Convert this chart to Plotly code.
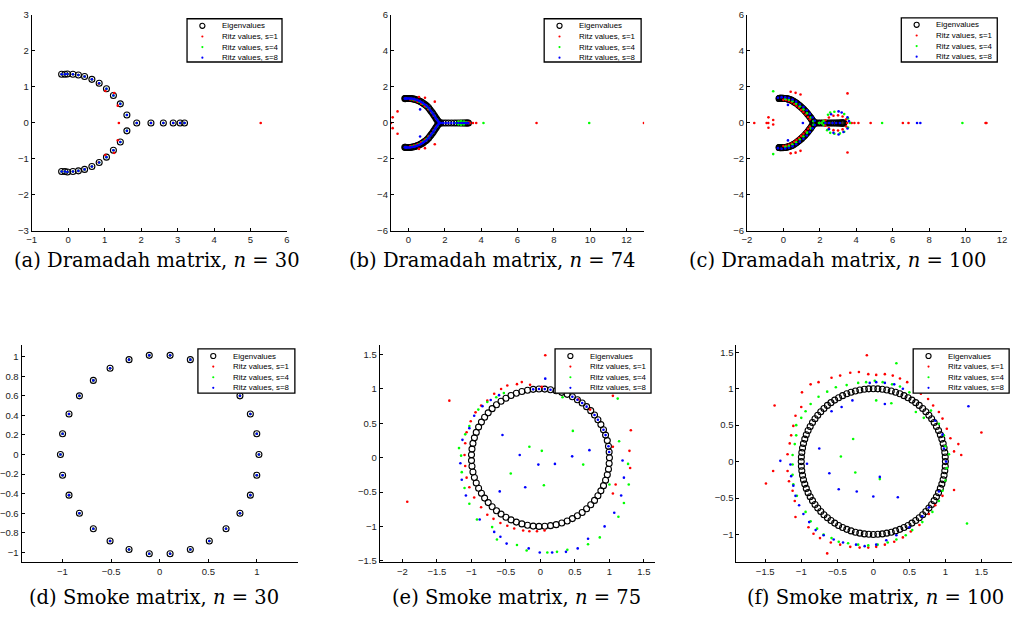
import plotly.graph_objects as go

W, H = 1027, 633

# ---------------- (a) Dramadah n=30 ----------------
a_eig = [(-0.18,1.35),(-0.09,1.35),(-0.02,1.36),(0.13,1.35),(0.28,1.33),(0.45,1.29),(0.65,1.21),(0.85,1.10),
         (1.05,0.95),(1.24,0.76),(1.43,0.53),(1.61,0.22),(1.88,0),(2.27,0),(2.61,0),(2.88,0),(3.07,0),(3.19,0),
         (1.61,-0.22),(1.43,-0.53),(1.24,-0.76),(1.05,-0.95),(0.85,-1.10),(0.65,-1.21),(0.45,-1.29),(0.28,-1.33),
         (0.13,-1.35),(-0.02,-1.36),(-0.09,-1.35),(-0.18,-1.35)]
a_s1 = [(-0.18,1.35),(-0.09,1.35),(-0.02,1.36),(0.13,1.35),(0.28,1.33),(0.45,1.29),(0.65,1.21),(0.84,1.09),
        (1.02,0.89),(1.26,0.83),(1.36,0.48),(1.39,0),(1.88,0),(2.27,0),(2.61,0),(2.88,0),(3.07,0),(3.19,0),(5.28,0),
        (1.36,-0.48),(1.26,-0.83),(1.02,-0.89),(0.84,-1.09),(0.65,-1.21),(0.45,-1.29),(0.28,-1.33),(0.13,-1.35),
        (-0.02,-1.36),(-0.09,-1.35),(-0.18,-1.35)]
a_s4 = a_eig
a_s8 = a_eig

# ---------------- (b) Dramadah n=74 ----------------
b_eig = [(-0.20,1.35),(-0.17,1.35),(-0.14,1.36),(-0.10,1.36),(-0.05,1.36),(0.01,1.36),(0.08,1.36),(0.15,1.35),
         (0.23,1.34),(0.31,1.32),(0.39,1.30),(0.47,1.27),(0.55,1.24),(0.63,1.20),(0.71,1.16),(0.79,1.11),
         (0.87,1.05),(0.95,0.99),(1.03,0.92),(1.11,0.84),(1.18,0.74),(1.25,0.65),(1.32,0.56),(1.38,0.47),
         (1.44,0.38),(1.50,0.29),(1.55,0.21),(1.60,0.13),(1.65,0.07),(1.70,0.02),
         (1.78,0),(1.90,0),(2.05,0),(2.20,0),(2.36,0),(2.52,0),(2.67,0),(2.81,0),(2.93,0),(3.03,0),(3.12,0),
         (3.19,0),(3.25,0),(3.30,0),
         (1.70,-0.02),(1.65,-0.07),(1.60,-0.13),(1.55,-0.21),(1.50,-0.29),(1.44,-0.38),(1.38,-0.47),(1.32,-0.56),
         (1.25,-0.65),(1.18,-0.74),(1.11,-0.84),(1.03,-0.92),(0.95,-0.99),(0.87,-1.05),(0.79,-1.11),(0.71,-1.16),
         (0.63,-1.20),(0.55,-1.24),(0.47,-1.27),(0.39,-1.30),(0.31,-1.32),(0.23,-1.34),(0.15,-1.35),(0.08,-1.36),
         (0.01,-1.36),(-0.05,-1.36),(-0.10,-1.36),(-0.14,-1.36),(-0.17,-1.35),(-0.20,-1.35)]
b_s1 = [(-0.96,0),(-0.87,0.31),(-0.87,-0.29),(-0.60,0.64),(-0.60,-0.60),(0.58,1.44),(0.91,1.40),(1.45,1.18),
        (1.45,-1.18),(0.91,-1.40),(0.58,-1.44),(3.55,0),(3.73,0),(7.05,0),(12.96,0),
        (0.10,1.30),(0.30,1.26),(0.50,1.18),(0.70,1.07),(0.90,0.93),(1.10,0.76),(1.25,0.60),(1.40,0.40),(1.52,0.22),
        (0.10,-1.30),(0.30,-1.26),(0.50,-1.18),(0.70,-1.07),(0.90,-0.93),(1.10,-0.76),(1.25,-0.60),(1.40,-0.40),
        (1.52,-0.22),(2.70,0),(2.80,0.06),(2.90,-0.06),(3.00,0),(3.10,0.05),(3.20,0),(3.30,0.04),(3.38,0)]
b_s4 = [(0.20,1.31),(0.40,1.26),(0.60,1.17),(0.80,1.05),(1.00,0.90),(1.15,0.76),(1.30,0.58),(1.45,0.38),(1.58,0.18),
        (0.20,-1.31),(0.40,-1.26),(0.60,-1.17),(0.80,-1.05),(1.00,-0.90),(1.15,-0.76),(1.30,-0.58),(1.45,-0.38),
        (1.58,-0.18),(2.60,0),(2.75,0.08),(2.90,0.10),(3.05,0.08),(3.20,0.03),(2.75,-0.08),(2.90,-0.10),
        (3.05,-0.08),(4.13,0),(9.95,0)]
b_s8 = b_eig + [(0.64,0.75),(0.64,-0.75)]

# ---------------- (c) Dramadah n=100 ----------------
c_eig = [(-0.24,1.36),(-0.22,1.36),(-0.20,1.37),(-0.17,1.37),(-0.14,1.37),(-0.10,1.37),(-0.06,1.37),(-0.01,1.37),
         (0.04,1.36),(0.10,1.36),(0.16,1.35),(0.22,1.34),(0.28,1.32),(0.34,1.30),(0.40,1.28),(0.46,1.25),
         (0.52,1.22),(0.58,1.18),(0.64,1.14),(0.70,1.10),(0.76,1.06),(0.82,1.01),(0.88,0.96),(0.94,0.91),
         (1.00,0.86),(1.06,0.80),(1.12,0.74),(1.18,0.68),(1.23,0.62),(1.28,0.56),(1.33,0.50),(1.38,0.44),
         (1.43,0.37),(1.48,0.31),(1.52,0.25),(1.56,0.19),(1.60,0.13),(1.64,0.08),(1.68,0.04),(1.72,0.01),
         (1.80,0),(1.92,0),(2.04,0),(2.16,0),(2.28,0),(2.40,0),(2.51,0),(2.62,0),(2.72,0),(2.82,0),(2.91,0),
         (2.99,0),(3.06,0),(3.12,0),(3.17,0),(3.21,0),(3.24,0),(3.27,0),(3.29,0),(3.31,0),
         (1.72,-0.01),(1.68,-0.04),(1.64,-0.08),(1.60,-0.13),(1.56,-0.19),(1.52,-0.25),(1.48,-0.31),(1.43,-0.37),
         (1.38,-0.44),(1.33,-0.50),(1.28,-0.56),(1.23,-0.62),(1.18,-0.68),(1.12,-0.74),(1.06,-0.80),(1.00,-0.86),
         (0.94,-0.91),(0.88,-0.96),(0.82,-1.01),(0.76,-1.06),(0.70,-1.10),(0.64,-1.14),(0.58,-1.18),(0.52,-1.22),
         (0.46,-1.25),(0.40,-1.28),(0.34,-1.30),(0.28,-1.32),(0.22,-1.34),(0.16,-1.35),(0.10,-1.36),(0.04,-1.36),
         (-0.01,-1.37),(-0.06,-1.37),(-0.10,-1.37),(-0.14,-1.37),(-0.17,-1.37),(-0.20,-1.37),(-0.22,-1.36),
         (-0.24,-1.36)]
c_s1 = [(-1.60,0),(-0.92,0),(-0.83,0),(-0.82,0.31),(-0.82,-0.27),(-0.56,0.16),(-0.56,-0.09),(0.40,1.73),
        (0.67,1.67),(0.94,1.58),(0.40,-1.69),(0.67,-1.65),(0.94,-1.55),(3.52,1.64),(3.52,-1.64),(4.12,0),
        (4.79,0),(6.56,0),(6.87,0),(11.10,0),(11.15,0),(3.75,0),(3.90,0),
        (0.00,1.28),(0.15,1.27),(0.30,1.22),(0.45,1.15),(0.60,1.05),(0.72,0.95),(0.85,0.84),(0.98,0.72),
        (1.10,0.60),(1.22,0.47),(1.35,0.33),(1.45,0.20),
        (0.00,-1.28),(0.15,-1.27),(0.30,-1.22),(0.45,-1.15),(0.60,-1.05),(0.72,-0.95),(0.85,-0.84),(0.98,-0.72),
        (1.10,-0.60),(1.22,-0.47),(1.35,-0.33),(1.45,-0.20),
        (2.50,0.30),(2.75,0.40),(3.00,0.42),(3.25,0.36),(3.45,0.20),(3.50,0),(3.45,-0.20),(3.25,-0.36),
        (3.00,-0.42),(2.75,-0.40),(2.50,-0.30),(2.30,0.15),(2.30,-0.15)]
c_s4 = [(-0.56,1.76),(-0.56,-1.73),(5.42,0),(9.83,0),
        (0.10,1.33),(0.30,1.29),(0.50,1.20),(0.70,1.07),(0.90,0.92),(1.10,0.75),(1.30,0.54),(1.50,0.30),(1.65,0.10),
        (0.10,-1.33),(0.30,-1.29),(0.50,-1.20),(0.70,-1.07),(0.90,-0.92),(1.10,-0.75),(1.30,-0.54),(1.50,-0.30),
        (1.65,-0.10),(2.45,0.45),(2.57,0.58),(2.80,0.62),(3.34,0.49),(3.55,0.25),(3.66,0),(3.55,-0.25),
        (3.34,-0.49),(3.10,-0.58),(2.80,-0.60),(2.57,-0.55),(2.40,-0.40),(2.20,0.10),(2.20,-0.10),(1.95,0),(2.10,0)]
c_s8 = [(1.07,0),(7.34,0),(7.52,0),(0.25,1.00),(0.25,-0.97),
        (-0.30,1.40),(-0.10,1.43),(0.10,1.42),(0.30,1.38),(0.50,1.30),(0.70,1.18),(0.90,1.04),(1.10,0.88),
        (1.28,0.70),(1.45,0.50),(1.60,0.30),(1.72,0.12),
        (-0.30,-1.40),(-0.10,-1.43),(0.10,-1.42),(0.30,-1.38),(0.50,-1.30),(0.70,-1.18),(0.90,-1.04),(1.10,-0.88),
        (1.28,-0.70),(1.45,-0.50),(1.60,-0.30),(1.72,-0.12),
        (2.62,0.48),(3.03,0.64),(3.20,0.58),(3.52,0.31),(3.60,0.10),(3.52,-0.31),(3.30,-0.50),(3.03,-0.64),
        (2.75,-0.55),(2.50,-0.35),(2.30,0),(2.50,0),(2.70,0),(2.90,0),(3.10,0)]

# ---------------- (d) Smoke n=30 ----------------
d_eig = [(1.02,0),(0.998,0.212),(0.932,0.415),(0.825,0.600),(0.682,0.758),(0.51,0.883),(0.315,0.970),
         (0.107,1.014),(-0.107,1.014),(-0.315,0.970),(-0.51,0.883),(-0.682,0.758),(-0.825,0.600),(-0.932,0.415),
         (-0.998,0.212),(-1.02,0),(-0.998,-0.212),(-0.932,-0.415),(-0.825,-0.600),(-0.682,-0.758),(-0.51,-0.883),
         (-0.315,-0.970),(-0.107,-1.014),(0.107,-1.014),(0.315,-0.970),(0.51,-0.883),(0.682,-0.758),
         (0.825,-0.600),(0.932,-0.415),(0.998,-0.212)]
d_s1 = d_eig
d_s4 = d_eig
d_s8 = d_eig

# ---------------- (e) Smoke n=75 ----------------
e_eig = [(1.000,0.000),(0.996,0.084),(0.986,0.167),(0.969,0.249),(0.944,0.329),(0.914,0.407),(0.876,0.482),
         (0.833,0.553),(0.784,0.621),(0.729,0.685),(0.669,0.743),(0.605,0.797),(0.536,0.844),(0.463,0.886),
         (0.388,0.922),(0.309,0.951),(0.228,0.974),(0.146,0.989),(0.063,0.998),(-0.021,1.000),(-0.105,0.995),
         (-0.187,0.982),(-0.269,0.963),(-0.349,0.937),(-0.426,0.905),(-0.500,0.866),(-0.571,0.821),(-0.637,0.771),
         (-0.700,0.714),(-0.757,0.653),(-0.809,0.588),(-0.855,0.518),(-0.896,0.445),(-0.930,0.368),(-0.957,0.289),
         (-0.978,0.208),(-0.992,0.125),(-0.999,0.042),(-0.999,-0.042),(-0.992,-0.125),(-0.978,-0.208),
         (-0.957,-0.289),(-0.930,-0.368),(-0.896,-0.445),(-0.855,-0.518),(-0.809,-0.588),(-0.757,-0.653),
         (-0.700,-0.714),(-0.637,-0.771),(-0.571,-0.821),(-0.500,-0.866),(-0.426,-0.905),(-0.349,-0.937),
         (-0.269,-0.963),(-0.187,-0.982),(-0.105,-0.995),(-0.021,-1.000),(0.063,-0.998),(0.146,-0.989),
         (0.228,-0.974),(0.309,-0.951),(0.388,-0.922),(0.463,-0.886),(0.536,-0.844),(0.605,-0.797),(0.669,-0.743),
         (0.729,-0.685),(0.784,-0.621),(0.833,-0.553),(0.876,-0.482),(0.914,-0.407),(0.944,-0.329),(0.969,-0.249),
         (0.986,-0.167),(0.996,-0.084)]
e_s1 = [(0.07,1.49),(-1.32,0.83),(-1.93,-0.64),(-0.15,1.06),(-0.27,1.10),(-0.34,1.07),(-0.48,1.05),(-0.57,1.00),
        (-0.67,0.93),(-0.77,0.83),(-0.86,0.76),(-0.94,0.66),(-1.01,0.53),(-1.07,0.37),(-1.09,0.21),(-1.10,0.04),
        (-1.09,-0.12),(-1.07,-0.29),(-1.03,-0.43),(-0.96,-0.58),(-0.86,-0.72),(-0.77,-0.83),(-0.68,-0.89),
        (-0.58,-0.95),(-0.48,-0.99),(-0.38,-1.03),(-0.25,-1.06),(-0.16,-1.07),(-0.05,-1.07),(0.06,-1.06),
        (0.02,1.03),(1.31,0.40),(1.29,0.10),(1.30,-0.15),(1.09,-0.39),(1.05,-0.52),(1.05,0.90),(1.05,0.16),
        (0.55,0.85),(0.72,0.70)]
e_s4 = [(-0.16,0.16),(0.02,0.10),(-0.43,-0.23),(0.05,-0.40),(0.47,0.39),(0.62,-0.10),(0.32,0.88),(1.12,0.86),
        (1.14,0.24),(1.27,-0.09),(1.28,-0.39),(1.00,-0.39),(1.21,-0.66),(1.13,-0.86),
        (-1.18,0.14),(-1.15,0.03),(-1.14,-0.21),(-1.09,0.34),(-1.03,0.46),(-0.90,0.70),(-0.77,0.81),(-0.64,0.88),
        (-0.53,0.94),(-1.10,-0.44),(-1.03,-0.67),(-0.92,-0.90),(-0.70,-1.01),(-0.63,-1.19),(-0.34,-1.27),
        (-0.20,-1.35),(0.10,-1.38),(0.24,-1.37),(0.39,-1.34),(0.69,-1.26),(0.86,-1.16)]
e_s8 = [(-0.55,0.33),(-0.30,0.04),(-0.03,-0.10),(0.21,-0.09),(-0.22,-0.43),(-0.59,-0.49),(0.71,0.11),(0.46,0.02),
        (0.07,1.15),(1.19,-0.04),(1.21,-0.29),(1.17,-0.55),(1.07,-0.80),(0.93,-1.00),(0.69,-1.18),(0.54,-1.32),
        (0.37,-1.37),(0.17,-1.38),(-0.01,-1.38),(-0.17,-1.32),(-0.49,-1.25),(-0.58,-1.15),(-0.67,-1.08),
        (-0.88,-0.90),(-1.08,-0.55),(-1.14,-0.32),(-1.16,-0.08),(-1.13,0.26),(-1.03,0.43),(-0.96,0.61),
        (-0.84,0.75),(-0.72,0.84),(-0.60,0.91),(-0.105,0.995),(-0.021,1.000),(0.063,0.998),(0.146,0.989),
        (0.463,0.886),(0.536,0.844),(0.605,0.797),(0.669,0.743),(0.784,0.621),(0.833,0.553),(0.914,0.407),
        (0.944,0.329),(0.986,0.167),(0.996,0.084)]

# ---------------- (f) Smoke n=100 ----------------
f_eig = [(1,0),(0.998,0.063),(0.992,0.125),(0.982,0.187),(0.969,0.249),(0.951,0.309),(0.930,0.368),(0.905,0.426),
         (0.876,0.482),(0.844,0.536),(0.809,0.588),(0.771,0.637),(0.729,0.685),(0.685,0.729),(0.637,0.771),
         (0.588,0.809),(0.536,0.844),(0.482,0.876),(0.426,0.905),(0.368,0.930),(0.309,0.951),(0.249,0.969),
         (0.187,0.982),(0.125,0.992),(0.063,0.998),(0,1),
         (-0.063,0.998),(-0.125,0.992),(-0.187,0.982),(-0.249,0.969),(-0.309,0.951),(-0.368,0.930),(-0.426,0.905),
         (-0.482,0.876),(-0.536,0.844),(-0.588,0.809),(-0.637,0.771),(-0.685,0.729),(-0.729,0.685),(-0.771,0.637),
         (-0.809,0.588),(-0.844,0.536),(-0.876,0.482),(-0.905,0.426),(-0.930,0.368),(-0.951,0.309),(-0.969,0.249),
         (-0.982,0.187),(-0.992,0.125),(-0.998,0.063),(-1,0),
         (-0.998,-0.063),(-0.992,-0.125),(-0.982,-0.187),(-0.969,-0.249),(-0.951,-0.309),(-0.930,-0.368),
         (-0.905,-0.426),(-0.876,-0.482),(-0.844,-0.536),(-0.809,-0.588),(-0.771,-0.637),(-0.729,-0.685),
         (-0.685,-0.729),(-0.637,-0.771),(-0.588,-0.809),(-0.536,-0.844),(-0.482,-0.876),(-0.426,-0.905),
         (-0.368,-0.930),(-0.309,-0.951),(-0.249,-0.969),(-0.187,-0.982),(-0.125,-0.992),(-0.063,-0.998),(0,-1),
         (0.063,-0.998),(0.125,-0.992),(0.187,-0.982),(0.249,-0.969),(0.309,-0.951),(0.368,-0.930),(0.426,-0.905),
         (0.482,-0.876),(0.536,-0.844),(0.588,-0.809),(0.637,-0.771),(0.685,-0.729),(0.729,-0.685),(0.771,-0.637),
         (0.809,-0.588),(0.844,-0.536),(0.876,-0.482),(0.905,-0.426),(0.930,-0.368),(0.951,-0.309),(0.969,-0.249),
         (0.982,-0.187),(0.992,-0.125),(0.998,-0.063)]
f_s1 = [(-0.09,1.46),(-1.37,0.77),(-1.39,-0.13),(-1.49,-0.30),(1.50,0.40),(-0.64,-1.26),(1.12,-0.39),(1.22,0.09),
        (1.18,0.24),(-0.32,1.22),(-0.20,1.23),(-0.07,1.20),(0.04,1.19),(0.16,1.20),(0.27,1.18),(0.37,1.14),
        (0.47,1.09),(0.57,1.02),(0.66,0.93),(0.76,0.86),(0.83,0.77),(0.91,0.68),(0.96,0.59),(1.02,0.45),
        (1.07,0.32),(1.12,0.14),(-0.46,1.18),(-0.58,1.15),(-0.76,1.09),(-0.87,1.06),(-0.99,0.95),(-1.00,0.75),
        (-1.08,0.63),(-1.11,0.49),(-1.14,0.36),(-1.16,0.25),(-1.19,0.10),(-1.19,-0.13),(-1.17,-0.27),
        (-1.12,-0.40),(-1.09,-0.54),(-1.08,-0.76),(-0.90,-0.90),(-0.83,-0.99),(-0.74,-1.05),(-0.59,-1.11),
        (-0.46,-1.14),(-0.32,-1.17),(-0.19,-1.18),(-0.07,-1.18),(0.04,-1.17),(0.16,-1.14),(0.29,-1.10),
        (0.41,-1.04),(0.52,-0.96),(0.64,-0.87),(0.77,-0.72),(0.86,-0.60),(0.96,-0.47)]
f_s4 = [(0.32,1.35),(1.30,-0.85),(0.04,0.84),(0.25,0.80),(-0.28,0.31),(-0.45,0.07),(-0.25,-0.15),(0.09,-0.24),
        (-0.37,1.05),(-0.21,1.08),(-0.10,1.09),(0.02,1.11),(0.13,1.09),(0.26,1.06),(0.37,1.03),(0.50,0.95),
        (0.59,0.68),(0.70,0.60),(0.80,0.70),(0.91,0.52),(0.98,0.36),(1.00,0.21),(1.05,0.10),(1.02,-0.09),
        (1.00,-0.26),(0.96,-0.40),(0.91,-0.54),(0.82,-0.69),(0.68,-0.83),(0.54,-0.94),(0.45,-1.01),(0.32,-1.07),
        (0.20,-1.11),(0.06,-1.14),(-0.07,-1.15),(-0.21,-1.14),(-0.35,-1.12),(-0.48,-1.10),(-0.58,-1.05),
        (-0.69,-1.00),(-0.78,-0.92),(-0.87,-0.82),(-0.94,-0.69),(-1.06,-0.47),(-1.11,-0.31),(-1.12,-0.18),
        (-1.12,-0.04),(-1.12,0.09),(-1.09,0.24),(-1.07,0.36),(-1.07,0.50),(-1.00,0.60),(-0.94,0.69),(-0.87,0.79),
        (-0.76,0.89),(-0.64,0.96),(-0.52,1.02)]
f_s8 = [(-0.44,0.75),(-0.29,0.84),(0.16,0.79),(-0.58,0.69),(-0.75,0.18),(-0.92,-0.03),(-1.29,0.01),(-0.61,-0.16),
        (-0.48,-0.38),(-0.23,-0.41),(0.00,-0.48),(0.09,-0.21),(0.34,-0.49),(1.32,0.76),
        (-0.05,1.08),(0.04,1.09),(0.16,1.08),(0.29,1.06),(0.41,1.00),(0.86,0.56),(0.96,0.37),(0.98,0.18),
        (1.01,0.00),(0.91,-0.41),(0.77,-0.63),(0.68,-0.75),(0.50,-0.90),(0.32,-1.01),(0.18,-1.08),(0.04,-1.14),
        (-0.12,-1.16),(-0.24,-1.14),(-0.42,-1.11),(-0.55,-1.07),(-0.69,-1.01),(-0.80,-0.94),(-0.89,-0.83),
        (-0.97,-0.72),(-1.03,-0.60),(-1.08,-0.47),(-1.11,-0.33),(-1.14,-0.20),(-1.15,-0.04)]

legend_labels = ["Eigenvalues", "Ritz values, s=1", "Ritz values, s=4", "Ritz values, s=8"]
captions = ["(a) Dramadah matrix, <i>n</i> = 30", "(b) Dramadah matrix, <i>n</i> = 74",
            "(c) Dramadah matrix, <i>n</i> = 100", "(d) Smoke matrix, <i>n</i> = 30",
            "(e) Smoke matrix, <i>n</i> = 75", "(f) Smoke matrix, <i>n</i> = 100"]

panels = [(a_eig, a_s1, a_s4, a_s8), (b_eig, b_s1, b_s4, b_s8), (c_eig, c_s1, c_s4, c_s8),
          (d_eig, d_s1, d_s4, d_s8), (e_eig, e_s1, e_s4, e_s8), (f_eig, f_s1, f_s4, f_s8)]

# layout (pixel boxes)
axbox = [
    dict(xd=(26, 284), yd=(9, 229), xr=(-1, 6), yr=(-3, 3), xdt=1, ydt=1),
    dict(xd=(389, 645), yd=(9, 229), xr=(-0.97, 12.97), yr=(-6, 6), xdt=2, ydt=2),
    dict(xd=(749, 1006.7), yd=(9, 229), xr=(-2, 12), yr=(-6, 6), xdt=2, ydt=2),
    dict(xd=(15.7, 295), yd=(345, 566), xr=(-1.42, 1.42), yr=(-1.10, 1.12), xdt=0.5, ydt=0.2),
    dict(xd=(377.7, 656), yd=(345, 566), xr=(-2.33, 1.66), yr=(-1.52, 1.64), xdt=0.5, ydt=0.5),
    dict(xd=(738.3, 1017.3), yd=(345, 566), xr=(-1.90, 1.93), yr=(-1.38, 1.60), xdt=0.5, ydt=0.5),
]
legbox = [(183, 13, 279, 57), (544, 13, 642, 57), (905, 12, 1002, 57),
          (194, 349, 292, 394), (555, 349, 652, 394), (917, 349, 1014, 394)]
capxy = [(153, 259), (492, 259), (841, 259), (150, 602), (516, 602), (879, 602)]

def fx(px):
    return px / W

def fy(py):
    return 1 - py / H

def X(p):
    return [q[0] for q in p]

def Y(p):
    return [q[1] for q in p]

colors = ["red", "#00ff00", "blue"]
fig = go.Figure()
layout = dict(width=W, height=H, autosize=False, margin=dict(l=0, r=0, t=0, b=0),
              paper_bgcolor="white", plot_bgcolor="white", showlegend=False)

axfont = dict(family="Liberation Sans, Arial, sans-serif", size=9.5, color="#222")
shapes, annos = [], []
for i, (eig, s1, s4, s8) in enumerate(panels):
    n = i + 1
    xa = "x" if n == 1 else f"x{n}"
    ya = "y" if n == 1 else f"y{n}"
    fig.add_trace(go.Scatter(x=X(eig), y=Y(eig), mode="markers", name=legend_labels[0], xaxis=xa, yaxis=ya,
                             marker=dict(symbol="circle-open", size=6, color="black", line=dict(width=1.1, color="black"))))
    for k, s in enumerate([s1, s4, s8]):
        fig.add_trace(go.Scatter(x=X(s), y=Y(s), mode="markers", name=legend_labels[k + 1], xaxis=xa, yaxis=ya,
                                 marker=dict(symbol="circle", size=2.6, color=colors[k], line=dict(width=0))))
    b = axbox[i]
    kx = "xaxis" if n == 1 else f"xaxis{n}"
    ky = "yaxis" if n == 1 else f"yaxis{n}"
    common = dict(showline=True, linecolor="black", linewidth=1, ticks="inside", ticklen=3, tickcolor="black",
                  tickwidth=1, showgrid=False, zeroline=False, mirror=False, tickfont=axfont, tick0=0)
    layout[kx] = dict(domain=[fx(b["xd"][0]), fx(b["xd"][1])], range=list(b["xr"]), dtick=b["xdt"],
                      anchor=ya, **common)
    layout[ky] = dict(domain=[fy(b["yd"][1]), fy(b["yd"][0])], range=list(b["yr"]), dtick=b["ydt"],
                      anchor=xa, **common)
    # legend box
    L, T, R, B = legbox[i]
    shapes.append(dict(type="rect", xref="paper", yref="paper", x0=fx(L), x1=fx(R), y0=fy(B), y1=fy(T),
                       line=dict(color="black", width=1.3), fillcolor="white", layer="above"))
    rows = [7.2, 18.0, 28.8, 39.6]
    gx = L + 15.5
    shapes.append(dict(type="circle", xref="paper", yref="paper", x0=fx(gx - 2.6), x1=fx(gx + 2.6),
                       y0=fy(T + rows[0] + 2.6), y1=fy(T + rows[0] - 2.6),
                       line=dict(color="black", width=1.1), fillcolor="rgba(0,0,0,0)", layer="above"))
    for k in range(3):
        r = 1.1
        shapes.append(dict(type="circle", xref="paper", yref="paper", x0=fx(gx - r), x1=fx(gx + r),
                           y0=fy(T + rows[k + 1] + r), y1=fy(T + rows[k + 1] - r),
                           line=dict(width=0), fillcolor=colors[k], layer="above"))
    for k in range(4):
        annos.append(dict(xref="paper", yref="paper", x=fx(L + 33.5), y=fy(T + rows[k]), text=legend_labels[k],
                          showarrow=False, xanchor="left", yanchor="middle",
                          font=dict(family="Liberation Sans, Arial, sans-serif", size=7.9, color="black")))
    cx, cy = capxy[i]
    annos.append(dict(xref="paper", yref="paper", x=fx(cx), y=fy(cy), text=captions[i], showarrow=False,
                      xanchor="center", yanchor="middle",
                      font=dict(family="DejaVu Serif, Liberation Serif, serif", size=19.5, color="black")))

layout["shapes"] = shapes
layout["annotations"] = annos
fig.update_layout(**layout)
fig.write_html("out.html")
